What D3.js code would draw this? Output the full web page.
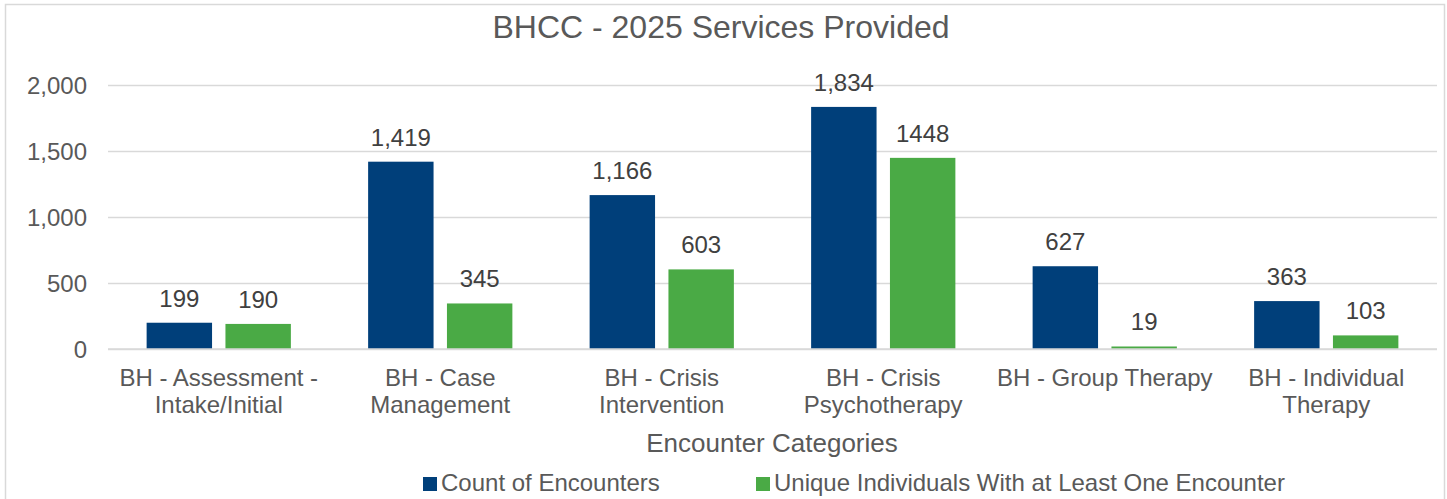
<!DOCTYPE html>
<html>
<head>
<meta charset="utf-8">
<script src="https://cdn.jsdelivr.net/npm/d3@7"></script>
<style>
  body { margin: 0; background: #fff; }
  text { font-family: "Liberation Sans", Arial, sans-serif; }
</style>
</head>
<body>
<div id="chart"></div>
<script>
// data
const categories = [
  ["BH - Assessment -", "Intake/Initial"],
  ["BH - Case", "Management"],
  ["BH - Crisis", "Intervention"],
  ["BH - Crisis", "Psychotherapy"],
  ["BH - Group Therapy"],
  ["BH - Individual", "Therapy"]
];
const seriesNames = ["Count of Encounters", "Unique Individuals With at Least One Encounter"];
const countOfEncounters = [199, 1419, 1166, 1834, 627, 363];
const uniqueIndividuals = [190, 345, 603, 1448, 19, 103];
const yTicks = [0, 500, 1000, 1500, 2000];

const colors = ["#003f7a", "#4aaa45"];
const labelFormats = [d3.format(","), d => String(d)];

const width = 1447, height = 499;
const plot = { left: 108, right: 1437, top: 85, bottom: 349 };

const svg = d3.select("#chart").append("svg")
  .attr("width", width)
  .attr("height", height);

// chart border
svg.append("rect")
  .attr("x", 5.5).attr("y", 4.5)
  .attr("width", 1439).attr("height", 510)
  .attr("fill", "#fff")
  .attr("stroke", "#d9d9d9")
  .attr("stroke-width", 1.5);

const catKeys = categories.map((c, i) => i);

const x = d3.scaleBand()
  .domain(catKeys)
  .range([plot.left, plot.right])
  .padding(0);

const xSub = d3.scaleBand()
  .domain([0, 1])
  .range([0, x.bandwidth()])
  .paddingInner(0.17)
  .paddingOuter(0.49);

const y = d3.scaleLinear()
  .domain([0, 2000])
  .range([plot.bottom, plot.top]);

// gridlines + y labels
const yAxis = svg.append("g")
  .attr("transform", `translate(${plot.left},0)`)
  .call(d3.axisLeft(y).tickValues(yTicks).tickFormat(d3.format(",")).tickSize(-(plot.right - plot.left)).tickPadding(21));
yAxis.select(".domain").remove();
yAxis.selectAll(".tick line").attr("stroke", "#d9d9d9").attr("stroke-width", 1.5);
yAxis.selectAll(".tick text")
  .attr("fill", "#595959")
  .attr("font-size", 24)
  .attr("dy", "0.36em")
  .style("font-family", "'Liberation Sans', Arial, sans-serif");

// bars
const rows = catKeys.map(i => [countOfEncounters[i], uniqueIndividuals[i]]);

const groups = svg.append("g")
  .selectAll("g")
  .data(rows)
  .enter().append("g")
  .attr("transform", (d, i) => `translate(${x(i)},0)`);

groups.selectAll("rect")
  .data(d => d.map((v, s) => ({ s: s, v: v })))
  .enter().append("rect")
  .attr("x", d => xSub(d.s))
  .attr("y", d => y(d.v))
  .attr("width", xSub.bandwidth())
  .attr("height", d => y(0) - y(d.v))
  .attr("fill", d => colors[d.s]);

groups.selectAll("text.val")
  .data(d => d.map((v, s) => ({ s: s, v: v })))
  .enter().append("text")
  .attr("class", "val")
  .attr("x", d => xSub(d.s) + xSub.bandwidth() / 2)
  .attr("y", d => y(d.v) - 16)
  .attr("text-anchor", "middle")
  .attr("font-size", 24)
  .attr("fill", "#404040")
  .text(d => labelFormats[d.s](d.v));

// baseline
svg.append("line")
  .attr("x1", plot.left).attr("x2", plot.right)
  .attr("y1", y(0)).attr("y2", y(0))
  .attr("stroke", "#d9d9d9").attr("stroke-width", 1.5);

// category labels
const catText = svg.append("g")
  .selectAll("text")
  .data(categories)
  .enter().append("text")
  .attr("x", (d, i) => x(i) + x.bandwidth() / 2)
  .attr("y", 386)
  .attr("text-anchor", "middle")
  .attr("font-size", 24)
  .attr("fill", "#595959");
catText.selectAll("tspan")
  .data(d => d)
  .enter().append("tspan")
  .attr("x", function () { return this.parentNode.getAttribute("x"); })
  .attr("dy", (d, j) => j === 0 ? 0 : 27)
  .text(d => d);

// title
svg.append("text")
  .attr("x", 721).attr("y", 38)
  .attr("text-anchor", "middle")
  .attr("font-size", 32)
  .attr("fill", "#595959")
  .text("BHCC - 2025 Services Provided");

// axis title
svg.append("text")
  .attr("x", 772).attr("y", 452)
  .attr("text-anchor", "middle")
  .attr("font-size", 26)
  .attr("fill", "#595959")
  .text("Encounter Categories");

// legend
const legendX = [423, 756];
const legend = svg.append("g")
  .selectAll("g")
  .data(seriesNames)
  .enter().append("g")
  .attr("transform", (d, i) => `translate(${legendX[i]},477)`);
legend.append("rect")
  .attr("width", 14).attr("height", 14)
  .attr("fill", (d, i) => colors[i]);
legend.append("text")
  .attr("x", 18).attr("y", 14)
  .attr("font-size", 24)
  .attr("fill", "#595959")
  .text(d => d);
</script>
</body>
</html>
